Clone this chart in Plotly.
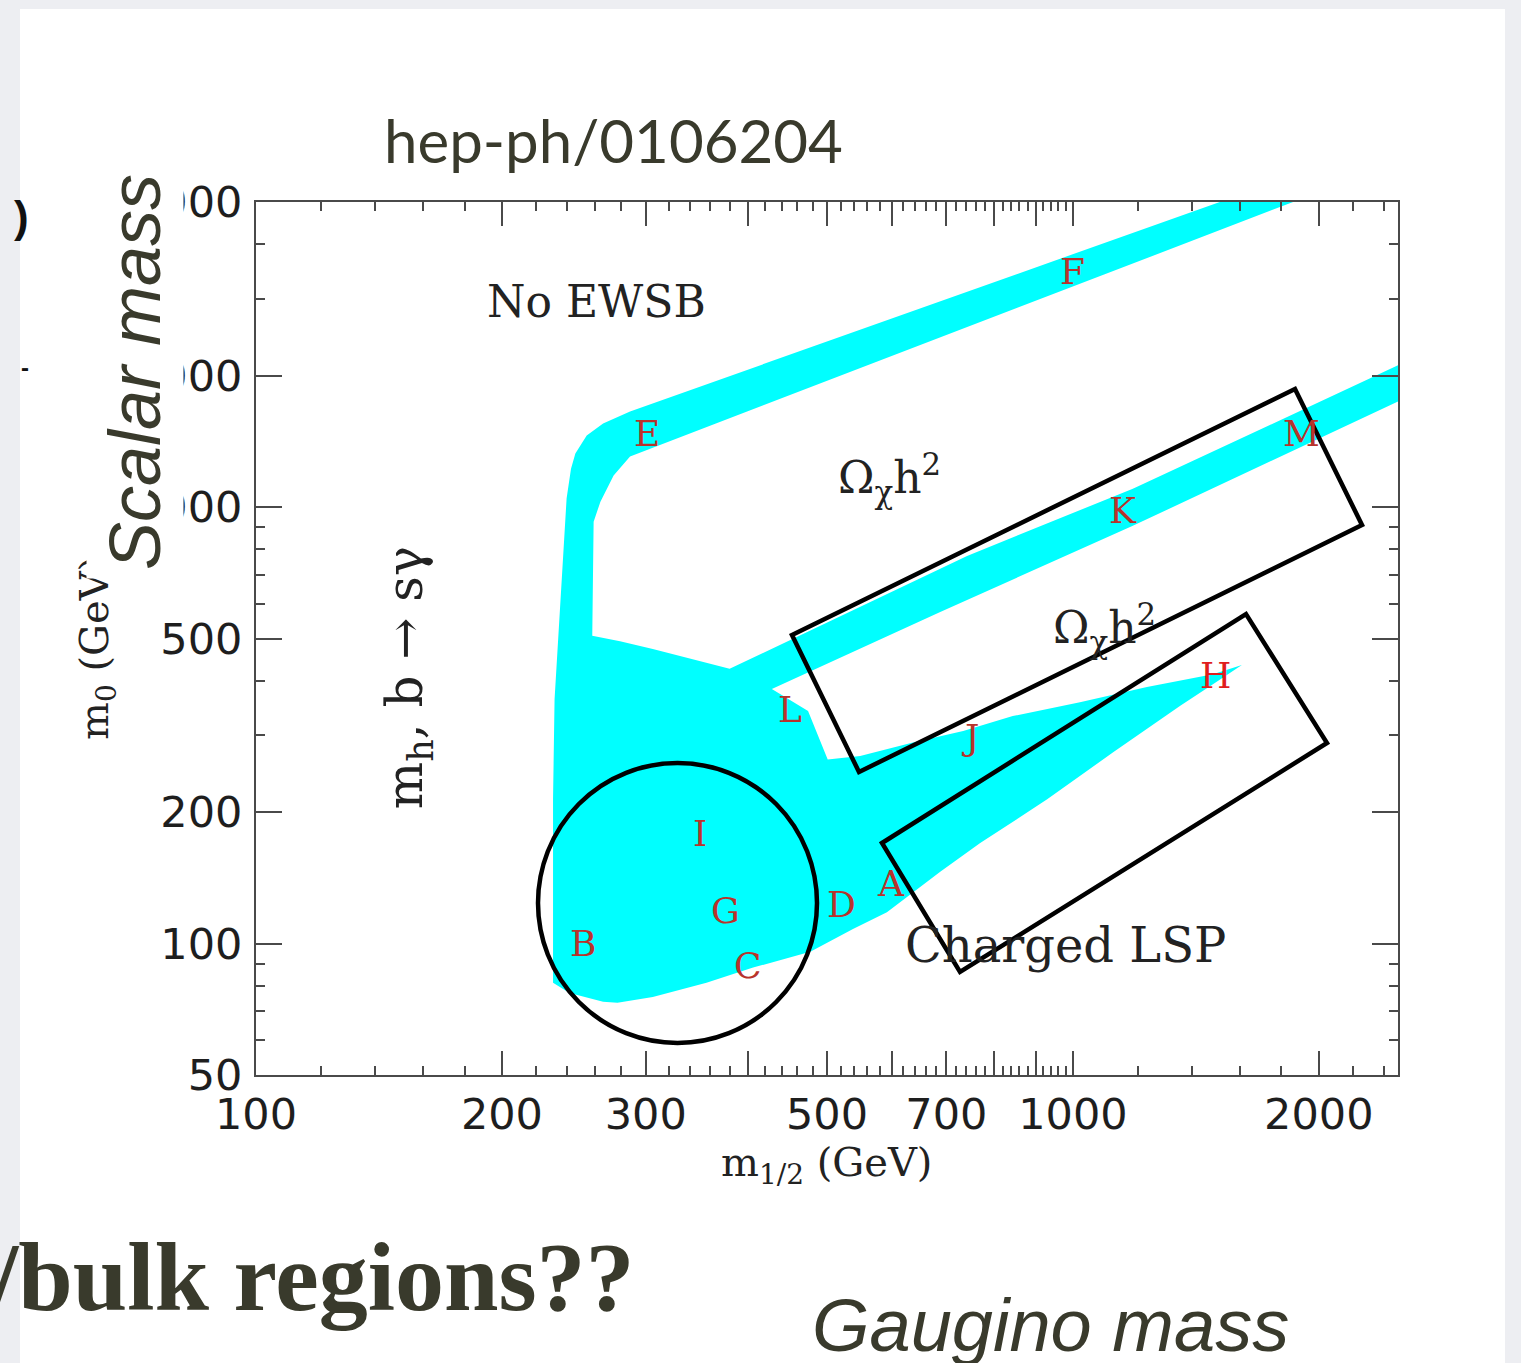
import math
import plotly.graph_objects as go

# ---------------- data ----------------
# outline of the cyan (relic-density allowed) region, m_1/2 (GeV) vs m_0 (GeV)
m_half_boundary = [231, 231, 232, 237, 240, 243, 246, 254, 266, 287, 1513, 1860,
                   306, 287, 274, 264, 259, 258, 279, 306, 380, 742, 1184, 2500,
                   2500, 1184, 688, 428, 474, 501, 549, 637, 734, 844, 1020, 1232,
                   1484, 1610, 1484, 1352, 1119, 930, 770, 688, 592, 538, 477, 406,
                   356, 306, 277, 266, 242]
m0_boundary = [81.3, 214, 363, 685, 1046, 1225, 1326, 1459, 1554, 1656, 5000, 5000,
               1362, 1306, 1181, 1029, 926, 507, 493, 473, 426, 773, 1102, 2112,
               1746, 906, 575, 383, 341, 264, 269, 289, 307, 332, 357, 387,
               414, 435, 393, 350, 274, 214, 170, 146, 118, 108, 95.8, 88.1,
               81.3, 75.5, 73.2, 73.6, 77.1]

# benchmark point labels
point_names = ["E", "F", "M", "K", "L", "J", "H", "I", "G", "D", "A", "B", "C"]
point_m_half = [301, 1000, 1907, 1151, 450, 748, 1496, 350, 376, 521, 599, 251, 400]
point_m0 = [1478, 3457, 1478, 980, 343, 296, 412, 179, 119, 123, 137, 99.8, 89.3]

# region labels
region_texts = ["No EWSB", "Ω<sub>χ</sub>h<sup>2</sup>", "Ω<sub>χ</sub>h<sup>2</sup>", "Charged LSP"]
region_m_half = [261, 597, 1094, 980]
region_m0 = [2951, 1166, 528, 99.3]
region_sizes = [44, 44, 44, 48]

x_tick_vals = [100, 200, 300, 400, 500, 600, 700, 800, 900, 1000, 2000]
x_tick_text = ["100", "200", "300", "", "500", "", "700", "", "", "1000", "2000"]
x_minor_vals = [v for v in range(120, 1000, 20) if v % 100 != 0] + [1200, 1400, 1600, 1800, 2200, 2400]
y_tick_vals = [50, 100, 200, 500, 1000, 2000, 5000]
y_tick_text = ["50", "100", "200", "500", "1000", "2000", "5000"]
y_minor_vals = [60, 70, 80, 90, 300, 400, 600, 700, 800, 900, 3000, 4000]

X_RANGE = [100, 2500]
Y_RANGE = [50, 5000]

# ---------------- page geometry ----------------
W, H = 1521, 1363
L, R, T, B = 256, 1398, 202, 1075   # plot area in page pixels


def px(x):
    return (x - L) / (R - L)


def py(y):
    return (B - y) / (B - T)


OLIVE = "#393a2c"
AXIS = "#4a4a4a"
RED = "#b8332c"

fig = go.Figure()
fig.add_trace(go.Scatter(
    x=m_half_boundary, y=m0_boundary, mode="lines", fill="toself",
    fillcolor="#00FFFF", line=dict(width=0, color="#00FFFF"),
    hoverinfo="skip", showlegend=False))

axis_common = dict(
    type="log", showgrid=False, zeroline=False, showline=True,
    linecolor=AXIS, linewidth=2, mirror="ticks", ticks="inside",
    tickcolor=AXIS, tickwidth=2, tickmode="array",
    tickfont=dict(family="DejaVu Sans", size=43, color="#1e1e1e"),
)

fig.update_xaxes(
    **axis_common,
    range=[math.log10(X_RANGE[0]), math.log10(X_RANGE[1])],
    tickvals=x_tick_vals, ticktext=x_tick_text, ticklen=24,
    ticklabelstandoff=0,
    minor=dict(tickmode="array", tickvals=x_minor_vals, ticks="inside",
               ticklen=9, tickwidth=1.5, tickcolor=AXIS, showgrid=False),
)
fig.update_yaxes(
    **axis_common,
    range=[math.log10(Y_RANGE[0]), math.log10(Y_RANGE[1])],
    tickvals=y_tick_vals, ticktext=y_tick_text, ticklen=26,
    ticklabelstandoff=3,
    minor=dict(tickmode="array", tickvals=y_minor_vals, ticks="inside",
               ticklen=9, tickwidth=1.5, tickcolor=AXIS, showgrid=False),
)

annotations = []
# benchmark letters
for name, xv, yv in zip(point_names, point_m_half, point_m0):
    annotations.append(dict(
        x=math.log10(xv), y=math.log10(yv), xref="x", yref="y", text=name,
        showarrow=False, xanchor="center", yanchor="middle",
        font=dict(family="DejaVu Serif", size=36,
                  color="#e01e1e" if name == "H" else RED)))
# region labels
for txt, xv, yv, fs in zip(region_texts, region_m_half, region_m0, region_sizes):
    annotations.append(dict(
        x=math.log10(xv), y=math.log10(yv), xref="x", yref="y", text=txt,
        showarrow=False, xanchor="center", yanchor="middle",
        font=dict(family="DejaVu Serif", size=fs, color="#222222")))
annotations.append(dict(
    x=math.log10(154), y=math.log10(406), xref="x", yref="y",
    text="m<sub>h</sub>, b → sγ", textangle=-90, showarrow=False,
    xanchor="center", yanchor="middle",
    font=dict(family="DejaVu Serif", size=50, color="#222222")))


def page_text(x, y, text, size, family, color="#222222", angle=0,
              xanchor="center", yanchor="middle", **kw):
    d = dict(x=px(x), y=py(y), xref="paper", yref="paper", text=text,
             showarrow=False, xanchor=xanchor, yanchor=yanchor, textangle=angle,
             font=dict(family=family, size=size, color=color))
    d.update(kw)
    annotations.append(d)


# axis titles
page_text(826, 1165, "m<sub>1/2</sub> (GeV)", 40, "DejaVu Serif")
page_text(97, 648, "m<sub>0</sub> (GeV)", 40, "DejaVu Serif", angle=-90)

# slide texts
page_text(135, 372, "<i>Scalar mass</i>", 72, "Liberation Sans", OLIVE, angle=-90,
          bgcolor="white", borderpad=8)
page_text(613, 140, "hep-ph/0106204", 60, "Lato", OLIVE)
page_text(1050, 1369, "<i>Gaugino mass</i>", 74, "Liberation Sans", OLIVE,
          yanchor="bottom")
page_text(-12, 1333, "<b>/bulk regions??</b>", 98, "Liberation Serif", OLIVE,
          xanchor="left", yanchor="bottom")
page_text(12, 216, "<b>)</b>", 44, "Liberation Sans", "#111111", xanchor="left")
page_text(19, 367, "<b>-</b>", 24, "Liberation Sans", "#111111", xanchor="left")

# overlay outlines drawn on the slide (page pixels)
rect1 = [(792, 635), (1295, 389), (1362, 525), (859, 772)]
rect2 = [(882, 843), (1246, 614), (1327, 743), (960, 972)]


def poly_path(pts):
    return "M " + " L ".join(f"{px(a):.5f},{py(b):.5f}" for a, b in pts) + " Z"


shapes = [
    dict(type="rect", xref="paper", yref="paper", x0=px(20), x1=px(1505),
         y0=py(9), y1=py(1400), fillcolor="white", line=dict(width=0), layer="below"),
    dict(type="path", xref="paper", yref="paper", path=poly_path(rect1),
         line=dict(color="black", width=4.5)),
    dict(type="path", xref="paper", yref="paper", path=poly_path(rect2),
         line=dict(color="black", width=4.5)),
    dict(type="circle", xref="paper", yref="paper", x0=px(538), x1=px(817),
         y0=py(1043), y1=py(763), line=dict(color="black", width=4.5)),
]

fig.update_layout(
    width=W, height=H, autosize=False,
    margin=dict(l=L, r=W - R, t=T, b=H - B, pad=0),
    paper_bgcolor="#edeef2", plot_bgcolor="white",
    showlegend=False, annotations=annotations, shapes=shapes,
)

fig.write_html("out.html", config={"displayModeBar": False},
               post_script="document.body.style.margin='0';document.body.style.overflow='hidden';")
